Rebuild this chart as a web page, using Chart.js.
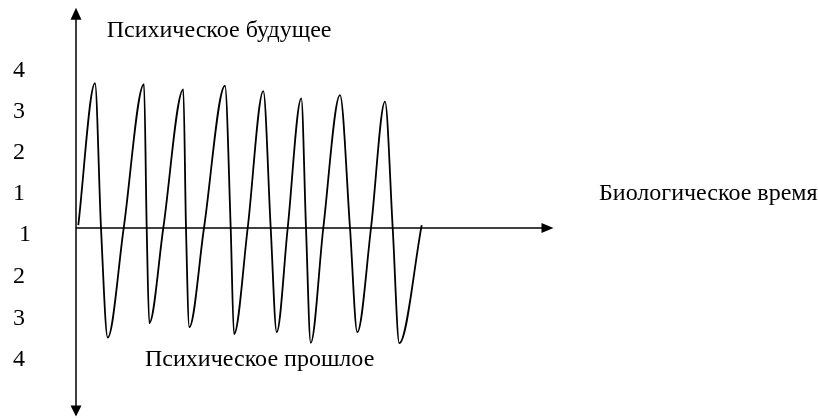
<!DOCTYPE html>
<html>
<head>
<meta charset="utf-8">
<script src="https://cdn.jsdelivr.net/npm/chart.js@4"></script>
<style>
  html, body { margin: 0; padding: 0; background: #ffffff; }
  #wrap { width: 818px; height: 418px; }
</style>
</head>
<body>
<div id="wrap"><canvas id="c" width="818" height="418"></canvas></div>
<script>
// Biological time (x) and psychic state (y)
const timeValues = [0.23, 1.9, 2.5, 3.17, 4.77, 6.8, 7.07, 7.33, 8.73, 10.73, 11.0, 11.33, 12.8, 14.9, 15.47, 15.8, 17.17, 18.73, 19.47, 20.07, 21.17, 22.53, 23.0, 23.47, 24.73, 26.4, 27.4, 28.13, 29.5, 30.9, 31.67, 32.33, 34.57];
const psycheValues = [0.07, 3.53, 0, -2.67, 0, 3.51, 0, -2.32, 0, 3.38, 0, -2.42, 0, 3.47, 0, -2.59, 0, 3.34, 0, -2.54, 0, 3.16, 0, -2.80, 0, 3.24, 0, -2.54, 0, 3.08, 0, -2.81, 0.07];

// Tick labels along the vertical axis and where they sit on it
const tickLabels = ['4', '3', '2', '1', '1', '2', '3', '4'];
const tickValues = [3.83, 2.83, 1.83, 0.83, -0.17, -1.19, -2.20, -3.20];

// Captions
const futureLabel = 'Психическое будущее';
const pastLabel = 'Психическое прошлое';
const timeLabel = 'Биологическое время';

const points = timeValues.map((x, i) => ({ x: x, y: psycheValues[i] }));

const FONT = '24px "Liberation Serif", "Times New Roman", serif';

const axesPlugin = {
  id: 'axesPlugin',
  afterDatasetsDraw(chart) {
    const ctx = chart.ctx;
    const xs = chart.scales.x, ys = chart.scales.y;
    const x0 = xs.getPixelForValue(0);
    const y0 = ys.getPixelForValue(0);
    const yTop = ys.getPixelForValue(5.37);
    const yBot = ys.getPixelForValue(-4.60);
    const xEnd = xs.getPixelForValue(47.75);
    ctx.save();
    ctx.strokeStyle = '#000';
    ctx.fillStyle = '#000';
    ctx.lineWidth = 1.5;
    // vertical axis
    ctx.beginPath();
    ctx.moveTo(x0, yBot - 8);
    ctx.lineTo(x0, yTop + 8);
    ctx.stroke();
    // horizontal axis
    ctx.beginPath();
    ctx.moveTo(x0, y0);
    ctx.lineTo(xEnd - 8, y0);
    ctx.stroke();
    // arrowheads
    ctx.beginPath();
    ctx.moveTo(x0, yTop);
    ctx.lineTo(x0 - 5.5, yTop + 12);
    ctx.lineTo(x0 + 5.5, yTop + 12);
    ctx.closePath();
    ctx.fill();
    ctx.beginPath();
    ctx.moveTo(x0, yBot);
    ctx.lineTo(x0 - 5.5, yBot - 11);
    ctx.lineTo(x0 + 5.5, yBot - 11);
    ctx.closePath();
    ctx.fill();
    ctx.beginPath();
    ctx.moveTo(xEnd, y0);
    ctx.lineTo(xEnd - 12, y0 - 5);
    ctx.lineTo(xEnd - 12, y0 + 5);
    ctx.closePath();
    ctx.fill();

    // tick labels
    ctx.font = FONT;
    ctx.textAlign = 'center';
    ctx.textBaseline = 'middle';
    tickLabels.forEach((t, i) => {
      const xv = (i === 4) ? -5.1 : -5.7;
      ctx.fillText(t, xs.getPixelForValue(xv), ys.getPixelForValue(tickValues[i]));
    });

    // captions
    ctx.textAlign = 'left';
    ctx.textBaseline = 'alphabetic';
    ctx.fillText(futureLabel, xs.getPixelForValue(3.07), ys.getPixelForValue(4.666));
    ctx.fillText(pastLabel, xs.getPixelForValue(6.9), ys.getPixelForValue(-3.366));
    ctx.fillText(timeLabel, xs.getPixelForValue(52.3), ys.getPixelForValue(0.683));
    ctx.restore();
  }
};

new Chart(document.getElementById('c'), {
  type: 'line',
  data: {
    datasets: [{
      data: points,
      borderColor: '#000',
      borderWidth: 1.8,
      pointRadius: 0,
      fill: false,
      cubicInterpolationMode: 'monotone'
    }]
  },
  options: {
    responsive: false,
    animation: false,
    layout: { padding: 0 },
    plugins: { legend: { display: false }, tooltip: { enabled: false } },
    scales: {
      x: { type: 'linear', display: false, min: -7.6, max: 74.2 },
      y: { type: 'linear', display: false, min: -4.634, max: 5.561 }
    }
  },
  plugins: [axesPlugin]
});
</script>
</body>
</html>
